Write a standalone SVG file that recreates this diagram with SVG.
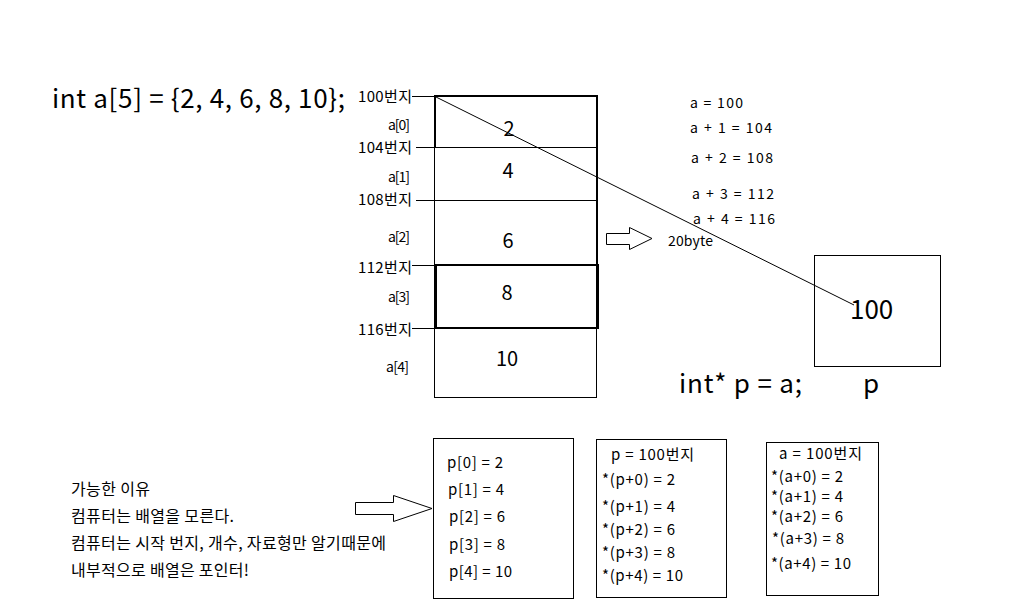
<svg xmlns="http://www.w3.org/2000/svg" width="1013" height="616" viewBox="0 0 1013 616">
<style>
text{font-family:"Noto Sans CJK KR","Liberation Sans",sans-serif;fill:#000}
.s{font-size:14px}
.ad{font-size:15px}
.m{font-size:15px}
.k{font-size:16px}
.v{font-size:20px;text-anchor:middle}
.b{font-size:26px}
.thin{fill:none;stroke:#000;stroke-width:1}
.thick{fill:none;stroke:#000;stroke-width:2}
</style>
<rect width="1013" height="616" fill="#fff"/>
<text class="b" x="52" y="108" textLength="293" lengthAdjust="spacing">int a[5] = {2, 4, 6, 8, 10};</text>
<g id="array">
<rect class="thin" x="434.5" y="96.5" width="162" height="301"/>
<path class="thick" d="M435 96V147M434 96H597V265"/>
<rect class="thick" x="436" y="265" width="162" height="63"/>
<line class="thin" x1="416" y1="147.5" x2="597" y2="147.5"/>
<line class="thin" x1="416" y1="200.5" x2="597" y2="200.5"/>
<text class="v" x="509" y="136">2</text>
<text class="v" x="508" y="178">4</text>
<text class="v" x="508" y="248">6</text>
<text class="v" x="507" y="300">8</text>
<text class="v" x="507" y="366">10</text>
</g>
<g id="labels" class="s">
<text class="ad" x="358" y="102" textLength="54" lengthAdjust="spacing">100번지</text>
<line class="thin" x1="412" y1="96.5" x2="434" y2="96.5"/>
<text x="388" y="130" textLength="22" lengthAdjust="spacing">a[0]</text>
<text class="ad" x="358" y="153" textLength="54" lengthAdjust="spacing">104번지</text>
<text x="388" y="182" textLength="22" lengthAdjust="spacing">a[1]</text>
<text class="ad" x="358" y="205" textLength="54" lengthAdjust="spacing">108번지</text>
<text x="388" y="242" textLength="22" lengthAdjust="spacing">a[2]</text>
<text class="ad" x="358" y="273" textLength="54" lengthAdjust="spacing">112번지</text>
<line class="thin" x1="412" y1="265.5" x2="436" y2="265.5"/>
<text x="388" y="302" textLength="22" lengthAdjust="spacing">a[3]</text>
<text class="ad" x="358" y="335" textLength="54" lengthAdjust="spacing">116번지</text>
<line class="thin" x1="412" y1="328.5" x2="436" y2="328.5"/>
<text x="386" y="372" textLength="23" lengthAdjust="spacing">a[4]</text>
</g>
<g id="offsets" class="s">
<text x="690" y="108" textLength="53" lengthAdjust="spacing">a = 100</text>
<text x="690" y="133" textLength="82" lengthAdjust="spacing">a + 1 = 104</text>
<text x="691" y="163" textLength="82" lengthAdjust="spacing">a + 2 = 108</text>
<text x="692" y="199" textLength="82" lengthAdjust="spacing">a + 3 = 112</text>
<text x="693" y="224" textLength="82" lengthAdjust="spacing">a + 4 = 116</text>
<text x="668" y="246" textLength="45" lengthAdjust="spacing">20byte</text>
</g>
<g id="connectors">
<line class="thin" x1="434" y1="96" x2="854" y2="305"/>
<path class="thin" d="M606.5 233.5H629.5V227.5L652 238.5L629.5 249.5V244.5H606.5Z"/>
<path class="thin" d="M355.5 502.5H393.5V495.5L432 508.5L393.5 521.5V514.5H355.5Z"/>
</g>
<g id="pointer">
<rect class="thin" x="814.5" y="255.5" width="126" height="111"/>
<text class="b" x="850" y="319">100</text>
<text class="b" x="679" y="393" textLength="123" lengthAdjust="spacing">int* p = a;</text>
<text class="b" x="863" y="393">p</text>
</g>
<g id="reason" class="k">
<text x="71" y="495" textLength="79" lengthAdjust="spacing">가능한 이유</text>
<text x="71" y="522" textLength="163" lengthAdjust="spacing">컴퓨터는 배열을 모른다.</text>
<text x="71" y="549" textLength="315" lengthAdjust="spacing">컴퓨터는 시작 번지, 개수, 자료형만 알기때문에</text>
<text x="71" y="576" textLength="178" lengthAdjust="spacing">내부적으로 배열은 포인터!</text>
</g>
<g id="box-p-index" class="m">
<rect class="thin" x="433.5" y="438.5" width="140" height="160"/>
<text x="447" y="468" textLength="56" lengthAdjust="spacing">p[0] = 2</text>
<text x="448" y="495" textLength="56" lengthAdjust="spacing">p[1] = 4</text>
<text x="449" y="522" textLength="56" lengthAdjust="spacing">p[2] = 6</text>
<text x="449" y="550" textLength="56" lengthAdjust="spacing">p[3] = 8</text>
<text x="449" y="577" textLength="63" lengthAdjust="spacing">p[4] = 10</text>
</g>
<g id="box-p-deref" class="m">
<rect class="thin" x="596.5" y="439.5" width="130" height="158"/>
<text x="611" y="460" textLength="83" lengthAdjust="spacing">p = 100번지</text>
<text x="602" y="485" textLength="73" lengthAdjust="spacing">*(p+0) = 2</text>
<text x="602" y="512" textLength="73" lengthAdjust="spacing">*(p+1) = 4</text>
<text x="602" y="535" textLength="73" lengthAdjust="spacing">*(p+2) = 6</text>
<text x="602" y="558" textLength="73" lengthAdjust="spacing">*(p+3) = 8</text>
<text x="602" y="581" textLength="81" lengthAdjust="spacing">*(p+4) = 10</text>
</g>
<g id="box-a-deref" class="m">
<rect class="thin" x="766.5" y="442.5" width="112" height="153"/>
<text x="779" y="459" textLength="83" lengthAdjust="spacing">a = 100번지</text>
<text x="771" y="482" textLength="72" lengthAdjust="spacing">*(a+0) = 2</text>
<text x="771" y="502" textLength="72" lengthAdjust="spacing">*(a+1) = 4</text>
<text x="771" y="522" textLength="72" lengthAdjust="spacing">*(a+2) = 6</text>
<text x="772" y="544" textLength="72" lengthAdjust="spacing">*(a+3) = 8</text>
<text x="771" y="569" textLength="80" lengthAdjust="spacing">*(a+4) = 10</text>
</g>
</svg>
